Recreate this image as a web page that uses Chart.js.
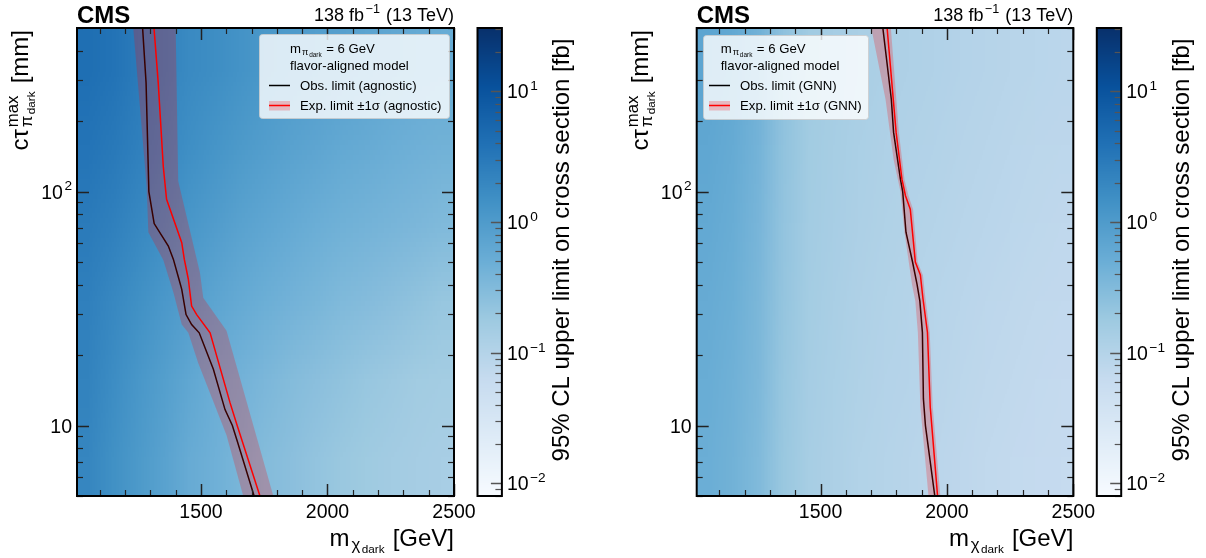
<!DOCTYPE html>
<html>
<head>
<meta charset="utf-8">
<script src="https://cdn.jsdelivr.net/npm/chart.js@4.4.1/dist/chart.umd.min.js"></script>
<style>
  html, body { margin: 0; padding: 0; background: #fff; }
  #wrap { position: relative; width: 1206px; height: 558px; overflow: hidden; }
  canvas { position: absolute; top: 0; }
</style>
</head>
<body>
<div id="wrap">
  <canvas id="agn" width="603" height="558" style="left:0"></canvas>
  <canvas id="gnn" width="603" height="558" style="left:603px"></canvas>
</div>
<script>
// ---- heatmap grid (cell edges) ----
const massEdges = [1000, 1100, 1200, 1300, 1400, 1500, 1600, 1700, 1800, 1900, 2000, 2100, 2200, 2300, 2400, 2500];
const ctEdges = [5, 10.8, 23.2, 50, 108, 232, 500];

// 95% CL limits [fb], one row per ct bin (bottom -> top), one value per mass bin
const agnLimitRows = [
  [2.0, 1.45, 1.05, 0.78, 0.55, 0.46, 0.37, 0.30, 0.26, 0.22, 0.19, 0.17, 0.155, 0.145, 0.135],
  [2.2, 1.6, 1.15, 0.87, 0.65, 0.50, 0.42, 0.35, 0.30, 0.26, 0.23, 0.20, 0.18, 0.16, 0.15],
  [2.4, 1.9, 1.45, 1.1, 0.88, 0.70, 0.57, 0.48, 0.42, 0.37, 0.32, 0.29, 0.26, 0.23, 0.20],
  [2.8, 2.4, 1.9, 1.5, 1.15, 0.95, 0.78, 0.66, 0.58, 0.50, 0.45, 0.41, 0.38, 0.35, 0.32],
  [3.5, 3.0, 2.4, 1.9, 1.5, 1.25, 1.05, 0.90, 0.78, 0.68, 0.60, 0.55, 0.50, 0.46, 0.43],
  [4.2, 3.6, 2.8, 2.2, 1.8, 1.55, 1.33, 1.13, 1.0, 0.90, 0.82, 0.72, 0.64, 0.58, 0.54]
];
const gnnLimitRows = [
  [0.50, 0.43, 0.32, 0.19, 0.14, 0.12, 0.105, 0.097, 0.090, 0.084, 0.078, 0.072, 0.068, 0.065, 0.062],
  [0.52, 0.45, 0.34, 0.20, 0.145, 0.125, 0.11, 0.10, 0.094, 0.088, 0.082, 0.076, 0.072, 0.068, 0.065],
  [0.55, 0.48, 0.36, 0.21, 0.15, 0.13, 0.115, 0.105, 0.098, 0.092, 0.086, 0.080, 0.076, 0.072, 0.069],
  [0.60, 0.52, 0.38, 0.22, 0.155, 0.135, 0.12, 0.11, 0.103, 0.097, 0.091, 0.086, 0.081, 0.077, 0.074],
  [0.65, 0.56, 0.41, 0.23, 0.16, 0.14, 0.125, 0.115, 0.108, 0.102, 0.096, 0.091, 0.086, 0.082, 0.079],
  [0.70, 0.60, 0.44, 0.24, 0.165, 0.145, 0.13, 0.12, 0.113, 0.107, 0.101, 0.096, 0.091, 0.087, 0.083]
];

// ---- limit contours (mass [GeV], ct [mm]) ----
const agnObsMass = [1269, 1283, 1294, 1315, 1371, 1391, 1413, 1424, 1441, 1463, 1493, 1549, 1595, 1624, 1646, 1710];
const agnObsCt   = [505, 292, 100, 73, 58.5, 51.3, 42.2, 38.2, 29.8, 27, 24.9, 17.4, 11.7, 10, 8.4, 5];
const agnExpMass = [1314, 1331, 1351, 1364, 1424, 1434, 1450, 1463, 1483, 1536, 1615, 1643, 1733];
const agnExpCt   = [505, 292, 128, 92.7, 60.5, 51.4, 42.2, 32.4, 29.8, 24.9, 12.5, 10, 5];
const agnBandLoMass = [1232, 1285, 1292, 1351, 1391, 1424, 1450, 1489, 1601, 1667];
const agnBandLoCt   = [505, 106, 67, 51, 37, 27, 24.9, 18.5, 9.1, 5];
const agnBandHiMass = [1400, 1410, 1496, 1509, 1601, 1786];
const agnBandHiCt   = [505, 111, 45, 35.2, 25.4, 5];

const gnnObsMass = [1746, 1780, 1789, 1816, 1825, 1838, 1864, 1882, 1893, 1903, 1907, 1915, 1952];
const gnnObsCt   = [505, 248, 179, 113, 100, 67, 50, 40, 34, 25, 13, 10, 5];
const gnnExpMass = [1763, 1799, 1822, 1836, 1855, 1875, 1895, 1905, 1923, 1934, 1963];
const gnnExpCt   = [505, 179, 113, 96, 84, 50, 44, 35, 25, 12, 5];
const gnnBandLoMass = [1700, 1757, 1789, 1816, 1832, 1849, 1862, 1875, 1885, 1895, 1927];
const gnnBandLoCt   = [505, 248, 137, 100, 67, 50, 40, 34, 25, 12, 5];
const gnnBandHiMass = [1778, 1810, 1832, 1848, 1866, 1884, 1905, 1915, 1932, 1944, 1974];
const gnnBandHiCt   = [505, 179, 113, 96, 84, 50, 44, 35, 25, 12, 5];

// ---- ticks / labels ----
const xMajorTicks = [1500, 2000, 2500];
const yMajorTicks = [10, 100];
const yTickLabels = ['10', '10^{2}'];
const cbMajorTicks = [0.01, 0.1, 1, 10];
const cbTickLabels = ['10^{\u22122}', '10^{\u22121}', '10^{0}', '10^{1}'];
const legendHeader = ['m_{\u03c0_{dark}} = 6 GeV', 'flavor-aligned model'];

const blues = ['#f7fbff', '#deebf7', '#c6dbef', '#9ecae1', '#6baed6', '#4292c6', '#2171b5', '#08519c', '#08306b'];
const bandColor = 'rgba(255,0,0,0.22)';

function hexRgb(h) { return [1, 3, 5].map(i => parseInt(h.substr(i, 2), 16)); }
const bluesRgb = blues.map(hexRgb);
function bluesColor(f) {
  f = Math.min(1, Math.max(0, f)) * (bluesRgb.length - 1);
  const i = Math.min(Math.floor(f), bluesRgb.length - 2), t = f - i;
  const a = bluesRgb[i], b = bluesRgb[i + 1];
  return 'rgb(' + a.map((v, k) => Math.round(v + (b[k] - v) * t)).join(',') + ')';
}

const font = (size, weight) => (weight ? weight + ' ' : '') + size + 'px "Liberation Sans", Arial, Helvetica, sans-serif';

// tiny mathtext: ^{..} and _{..}
function parseMath(s) {
  let i = 0;
  function group() {
    const items = [];
    let buf = '';
    const flush = () => { if (buf) { items.push({ t: buf }); buf = ''; } };
    while (i < s.length && s[i] !== '}') {
      const ch = s[i];
      if (ch === '^' || ch === '_') {
        flush(); i++;
        let g;
        if (s[i] === '{') { i++; g = group(); i++; } else { g = [{ t: s[i] }]; i++; }
        const key = ch === '^' ? 'sup' : 'sub';
        const last = items[items.length - 1];
        if (last && last.t === undefined && !last[key]) last[key] = g;
        else items.push({ [key]: g });
      } else { buf += ch; i++; }
    }
    flush();
    return items;
  }
  return group();
}
// script spacing (before / after a script group, in units of the base size)
const GAP_IN = 0.08, GAP_OUT = 0.06;
function richWidth(ctx, items, size, weight) {
  let w = 0;
  items.forEach((it, k) => {
    if (it.t !== undefined) { ctx.font = font(size, weight); w += ctx.measureText(it.t).width; }
    else {
      const ss = size * 0.7;
      w += size * GAP_IN;
      w += Math.max(it.sup ? richWidth(ctx, it.sup, ss, weight) : 0, it.sub ? richWidth(ctx, it.sub, ss, weight) : 0);
      if (k < items.length - 1) w += size * GAP_OUT;
    }
  });
  return w;
}
function richDraw(ctx, items, x, y, size, weight) {
  items.forEach((it, k) => {
    if (it.t !== undefined) {
      ctx.font = font(size, weight);
      ctx.fillText(it.t, x, y);
      x += ctx.measureText(it.t).width;
    } else {
      const ss = size * 0.7;
      x += size * GAP_IN;
      let w = 0;
      if (it.sup) w = Math.max(w, richDraw(ctx, it.sup, x, y - size * 0.42, ss, weight) - x);
      if (it.sub) w = Math.max(w, richDraw(ctx, it.sub, x, y + size * 0.17, ss, weight) - x);
      x += w;
      if (k < items.length - 1) x += size * GAP_OUT;
    }
  });
  return x;
}
function drawText(ctx, str, x, y, o) {
  const items = parseMath(str);
  ctx.save();
  ctx.translate(x, y);
  if (o.rotate) ctx.rotate(o.rotate);
  ctx.textAlign = 'left';
  ctx.textBaseline = 'alphabetic';
  ctx.fillStyle = o.color || '#000';
  const w = richWidth(ctx, items, o.size, o.weight || '');
  const x0 = o.align === 'right' ? -w : o.align === 'center' ? -w / 2 : 0;
  richDraw(ctx, items, x0, 0, o.size, o.weight || '');
  ctx.restore();
}

function line(ctx, x1, y1, x2, y2) { ctx.beginPath(); ctx.moveTo(x1, y1); ctx.lineTo(x2, y2); ctx.stroke(); }

function logMinors(min, max) {
  const out = [];
  for (let e = -4; e <= 4; e++) for (let k = 2; k <= 9; k++) {
    const v = k * Math.pow(10, e);
    if (v >= min * 0.999 && v <= max * 1.001) out.push(v);
  }
  return out;
}

function pts(ms, cs) { return ms.map((m, i) => ({ x: m, y: cs[i] })); }

const panelPlugin = {
  id: 'panel',
  beforeDatasetsDraw(chart) {
    const p = chart.options.plugins.panel;
    const { ctx, chartArea: a, scales } = chart;
    const x = scales.x, y = scales.y, cb = scales.cb;
    const frac = v => (cb.bottom - cb.getPixelForValue(v)) / (cb.bottom - cb.top);
    const nR = p.rows.length, nC = p.rows[0].length;
    ctx.save();
    ctx.beginPath(); ctx.rect(a.left, a.top, a.right - a.left, a.bottom - a.top); ctx.clip();
    // flat cells
    const off = document.createElement('canvas');
    off.width = nC; off.height = nR;
    const oc = off.getContext('2d');
    p.rows.forEach((row, r) => row.forEach((v, c) => {
      const col = bluesColor(frac(v));
      const x0 = x.getPixelForValue(massEdges[c]), x1 = x.getPixelForValue(massEdges[c + 1]);
      const y0 = y.getPixelForValue(ctEdges[r + 1]), y1 = y.getPixelForValue(ctEdges[r]);
      ctx.fillStyle = col;
      ctx.fillRect(x0, y0, x1 - x0 + 0.5, y1 - y0 + 0.5);
      oc.fillStyle = col;
      oc.fillRect(c, nR - 1 - r, 1, 1);
    }));
    // smoothed shading on top
    ctx.imageSmoothingEnabled = true;
    const gx0 = x.getPixelForValue(massEdges[0]), gx1 = x.getPixelForValue(massEdges[massEdges.length - 1]);
    const gy0 = y.getPixelForValue(ctEdges[ctEdges.length - 1]), gy1 = y.getPixelForValue(ctEdges[0]);
    ctx.drawImage(off, gx0, gy0, gx1 - gx0, gy1 - gy0);
    ctx.restore();
  },
  afterDatasetsDraw(chart) {
    const p = chart.options.plugins.panel;
    const { ctx, chartArea: a, scales } = chart;
    const x = scales.x, y = scales.y, cb = scales.cb;
    ctx.save();

    // ticks (inward, all four sides)
    ctx.strokeStyle = '#222';
    const xMinors = [];
    for (let v = 1100; v < 2500; v += 100) if (!xMajorTicks.includes(v)) xMinors.push(v);
    const drawX = (vals, len, lw) => {
      ctx.lineWidth = lw;
      vals.forEach(v => {
        const px = Math.round(x.getPixelForValue(v)) + 0.5;
        line(ctx, px, a.bottom, px, a.bottom - len);
        line(ctx, px, a.top, px, a.top + len);
      });
    };
    const drawY = (vals, len, lw) => {
      ctx.lineWidth = lw;
      vals.forEach(v => {
        const py = Math.round(y.getPixelForValue(v)) + 0.5;
        line(ctx, a.left, py, a.left + len, py);
        line(ctx, a.right, py, a.right - len, py);
      });
    };
    drawX(xMinors, 6, 1.2);
    drawX(xMajorTicks, 12, 1.5);
    drawY(logMinors(5, 500).filter(v => !yMajorTicks.includes(v)), 6, 1.2);
    drawY(yMajorTicks, 12, 1.5);

    // frame
    ctx.strokeStyle = '#000';
    ctx.lineWidth = 2;
    ctx.strokeRect(a.left, a.top, a.right - a.left, a.bottom - a.top);

    // tick labels
    xMajorTicks.forEach(v => drawText(ctx, String(v), x.getPixelForValue(v), a.bottom + 22.3, { size: 19.5, align: 'center' }));
    yMajorTicks.forEach((v, i) => drawText(ctx, yTickLabels[i], a.left - 5, y.getPixelForValue(v) + 7, { size: 19.5, align: 'right' }));

    // axis titles
    drawText(ctx, 'm_{\u03c7_{dark}} [GeV]', a.right, a.bottom + 50, { size: 24, align: 'right' });
    drawText(ctx, 'c\u03c4^{max}_{\u03c0_{dark}} [mm]', a.left - 49, a.top + 2, { size: 24, align: 'right', rotate: -Math.PI / 2 });

    // CMS label + lumi
    drawText(ctx, 'CMS', a.left, a.top - 5.5, { size: 24, weight: 'bold' });
    drawText(ctx, '138 fb^{\u22121} (13 TeV)', a.right, a.top - 7.3, { size: 18, align: 'right' });

    // legend
    const [bx, by, bw, bh] = p.legendBox;
    ctx.fillStyle = 'rgba(255,255,255,0.8)';
    ctx.strokeStyle = 'rgba(204,204,204,0.8)';
    ctx.lineWidth = 1;
    ctx.beginPath();
    ctx.roundRect(bx + 0.5, by + 0.5, bw, bh, 3);
    ctx.fill(); ctx.stroke();
    const ls = 13.2;
    drawText(ctx, legendHeader[0], p.row1X, 53, { size: ls });
    drawText(ctx, legendHeader[1], p.row1X, 70, { size: ls });
    const [h0, h1] = p.handle;
    ctx.strokeStyle = '#000'; ctx.lineWidth = 1.5;
    line(ctx, h0, 85.5, h1, 85.5);
    drawText(ctx, 'Obs. limit (' + p.tag + ')', p.textX, 90.3, { size: ls });
    ctx.fillStyle = bandColor;
    ctx.fillRect(h0, 101, h1 - h0, 9.5);
    ctx.strokeStyle = '#ff0000';
    line(ctx, h0, 105.5, h1, 105.5);
    drawText(ctx, 'Exp. limit \u00b11\u03c3 (' + p.tag + ')', p.textX, 110.3, { size: ls });

    // colorbar
    const cbL = a.right + 23.5, cbW = 24.4, cbR = cbL + cbW;
    const frac = v => (cb.bottom - cb.getPixelForValue(v)) / (cb.bottom - cb.top);
    for (let py = Math.floor(cb.top); py < cb.bottom; py++) {
      ctx.fillStyle = bluesColor(frac(cb.getValueForPixel(py + 0.5)));
      ctx.fillRect(cbL, py, cbW, 1);
    }
    ctx.strokeStyle = '#555';
    ctx.lineWidth = 1.2;
    logMinors(cb.min, cb.max).filter(v => !cbMajorTicks.includes(v)).forEach(v => {
      const py = Math.round(cb.getPixelForValue(v)) + 0.5;
      line(ctx, cbR, py, cbR - 6.5, py);
    });
    ctx.lineWidth = 1.5;
    cbMajorTicks.forEach((v, i) => {
      const py = Math.round(cb.getPixelForValue(v)) + 0.5;
      line(ctx, cbR, py, cbR - 11, py);
      drawText(ctx, cbTickLabels[i], cbR + 5, py + 6.7, { size: 19.5 });
    });
    ctx.strokeStyle = '#000';
    ctx.lineWidth = 2;
    ctx.strokeRect(cbL, cb.top, cbW, cb.bottom - cb.top);
    drawText(ctx, '95% CL upper limit on cross section [fb]', cbR + 67.3, 250, { size: 24, align: 'center', rotate: -Math.PI / 2 });

    ctx.restore();
  }
};

function makePanel(id, cfg) {
  const canvas = document.getElementById(id);
  const W = canvas.width;
  return new Chart(canvas.getContext('2d'), {
    type: 'line',
    data: {
      datasets: [
        { label: 'band', data: pts(cfg.lo[0], cfg.lo[1]).concat(pts(cfg.hi[0], cfg.hi[1]).reverse()),
          fill: 'shape', backgroundColor: bandColor, borderWidth: 0, pointRadius: 0 },
        { label: 'exp', data: pts(cfg.exp[0], cfg.exp[1]), borderColor: '#ff0000', borderWidth: 1.5, pointRadius: 0, fill: false },
        { label: 'obs', data: pts(cfg.obs[0], cfg.obs[1]), borderColor: '#000000', borderWidth: 1.5, pointRadius: 0, fill: false }
      ]
    },
    options: {
      responsive: false,
      animation: false,
      events: [],
      elements: { line: { tension: 0 } },
      layout: { padding: { left: 0, top: 28, right: W - cfg.areaRight, bottom: 0 } },
      plugins: {
        legend: { display: false },
        tooltip: { enabled: false },
        panel: cfg
      },
      scales: {
        x: { type: 'linear', min: 1010, max: 2500,
             ticks: { display: false }, grid: { display: false }, border: { display: false },
             afterFit: s => { s.height = 62; } },
        y: { type: 'logarithmic', min: 5, max: 500,
             ticks: { display: false }, grid: { display: false }, border: { display: false },
             afterFit: s => { s.width = cfg.areaLeft; } },
        cb: { type: 'logarithmic', position: 'right', display: false, min: 0.008, max: 30.5 }
      }
    },
    plugins: [panelPlugin]
  });
}

makePanel('agn', {
  areaLeft: 77, areaRight: 454, rows: agnLimitRows, tag: 'agnostic',
  obs: [agnObsMass, agnObsCt], exp: [agnExpMass, agnExpCt],
  lo: [agnBandLoMass, agnBandLoCt], hi: [agnBandHiMass, agnBandHiCt],
  legendBox: [259, 34, 190, 84], handle: [269, 290], row1X: 290, textX: 300
});
makePanel('gnn', {
  areaLeft: 93.7, areaRight: 470.3, rows: gnnLimitRows, tag: 'GNN',
  obs: [gnnObsMass, gnnObsCt], exp: [gnnExpMass, gnnExpCt],
  lo: [gnnBandLoMass, gnnBandLoCt], hi: [gnnBandHiMass, gnnBandHiCt],
  legendBox: [100, 35, 165, 84], handle: [106, 127], row1X: 117.7, textX: 137
});
</script>
</body>
</html>
